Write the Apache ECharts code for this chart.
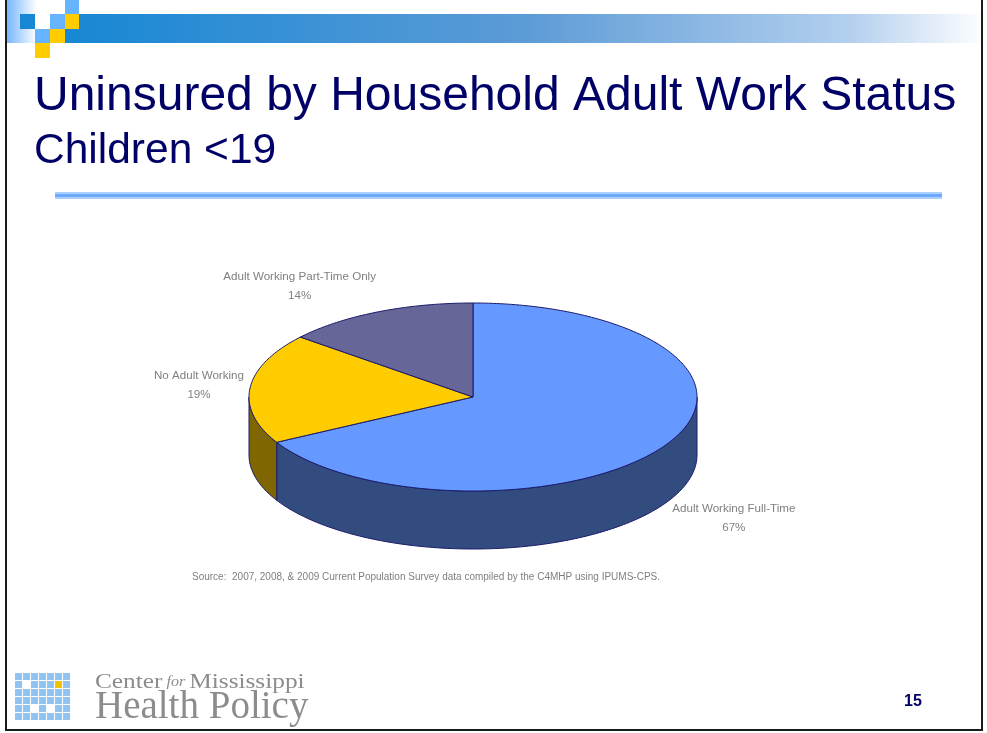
<!DOCTYPE html>
<html>
<head>
<meta charset="utf-8">
<title>Uninsured by Household Adult Work Status</title>
<script src="https://cdn.jsdelivr.net/npm/echarts@6/dist/echarts.min.js"></script>
<style>
  html, body { margin: 0; padding: 0; background: #ffffff; }
  #chart { width: 987px; height: 733px; }
</style>
</head>
<body>
<div id="chart"></div>
<script>
// Share of uninsured children (<19) by household adult work status
const categories = ['Adult Working Full-Time', 'No Adult Working', 'Adult Working Part-Time Only'];
const shares = [67, 19, 14];

// Slice colours: top face and side wall
const topColors = ['#6699FF', '#FFCC00', '#666699'];
const sideColors = ['#334C80', '#7F6600', '#333366'];
// Label offset from the rim point at each slice's mid-angle
const labelOffsets = [[68, 73], [-51, -3], [-78, -26]];

// Tilted pie geometry
const PIE = { cx: 473, cy: 397, rx: 224, ry: 94, depth: 58 };
const OUTLINE = '#1B1B6B';

const total = shares.reduce((a, b) => a + b, 0);
const starts = [];
shares.reduce((acc, v) => { starts.push(acc); return acc + v; }, 0);

// angle in degrees, clockwise from 12 o'clock
function rim(theta, dy) {
  const r = theta * Math.PI / 180;
  return [PIE.cx + PIE.rx * Math.sin(r), PIE.cy - PIE.ry * Math.cos(r) + (dy || 0)];
}
function arc(a0, a1, dy) {
  const pts = [];
  const n = Math.max(2, Math.ceil(Math.abs(a1 - a0)));
  for (let i = 0; i <= n; i++) pts.push(rim(a0 + (a1 - a0) * i / n, dy));
  return pts;
}
function sliceAngles(api) {
  const v = api.value(0), s = api.value(1);
  return [s / total * 360, (s + v) / total * 360];
}

const seriesData = shares.map((v, i) => ({ name: categories[i], value: [v, starts[i]] }));

function renderSide(params, api) {
  const [a0, a1] = sliceAngles(api);
  const s = Math.max(a0, 90), e = Math.min(a1, 270);
  if (s >= e) return null;
  const pts = arc(s, e, 0).concat(arc(e, s, PIE.depth));
  return {
    type: 'polygon',
    shape: { points: pts },
    style: { fill: sideColors[params.dataIndex], stroke: OUTLINE, lineWidth: 1 }
  };
}

function renderTop(params, api) {
  const [a0, a1] = sliceAngles(api);
  const i = params.dataIndex;
  const pts = [[PIE.cx, PIE.cy]].concat(arc(a0, a1, 0));
  const mid = rim((a0 + a1) / 2, 0);
  const off = labelOffsets[i];
  return {
    type: 'group',
    children: [
      {
        type: 'polygon',
        shape: { points: pts },
        style: { fill: topColors[i], stroke: OUTLINE, lineWidth: 1, lineJoin: 'round' }
      },
      {
        type: 'text',
        x: mid[0] + off[0],
        y: mid[1] + off[1],
        style: {
          text: categories[i] + '\n' + api.value(0) + '%',
          align: 'center',
          verticalAlign: 'middle',
          fill: '#7F7F7F',
          fontFamily: '"Liberation Sans", Arial, sans-serif',
          fontSize: 11.6,
          lineHeight: 19
        }
      }
    ]
  };
}

// Logo grid cells (col,row) that are highlighted
const logoWhite = [[1, 1], [2, 4], [4, 4]];
const logoYellow = [[5, 1]];
function logoCells() {
  const cells = [];
  const x0 = 15, y0 = 673, cs = 8;
  for (let r = 0; r < 6; r++) {
    for (let c = 0; c < 7; c++) {
      let fill = '#8EC3F2';
      if (logoWhite.some(p => p[0] === c && p[1] === r)) fill = '#FFFFFF';
      if (logoYellow.some(p => p[0] === c && p[1] === r)) fill = '#F2C200';
      cells.push({
        type: 'rect',
        shape: { x: x0 + c * cs, y: y0 + r * cs, width: cs - 1, height: cs - 1 },
        style: { fill: fill }
      });
    }
  }
  return cells;
}

const SANS = '"Liberation Sans", Arial, sans-serif';
const SERIF = '"Liberation Serif", "DejaVu Serif", serif';

const chart = echarts.init(document.getElementById('chart'), null, { renderer: 'canvas' });
chart.setOption({
  backgroundColor: '#ffffff',
  animation: false,
  series: [
    { type: 'custom', coordinateSystem: 'none', renderItem: renderSide, data: seriesData, z: 2, silent: true },
    { type: 'custom', coordinateSystem: 'none', renderItem: renderTop, data: seriesData, z: 3, silent: true }
  ],
  graphic: [
    // header band
    {
      type: 'rect', shape: { x: 5, y: 0, width: 32, height: 43 }, silent: true,
      style: { fill: new echarts.graphic.LinearGradient(0, 0, 1, 0, [
        { offset: 0, color: '#6FB2FF' }, { offset: 1, color: '#FFFFFF' }]) }
    },
    {
      type: 'rect', shape: { x: 65, y: 14, width: 922, height: 29 }, silent: true,
      style: { fill: new echarts.graphic.LinearGradient(0, 0, 1, 0, [
        { offset: 0, color: '#1787D4' }, { offset: 0.5, color: '#5C9BD6' },
        { offset: 0.85, color: '#B3CFEE' }, { offset: 1, color: '#FFFFFF' }]) }
    },
    { type: 'rect', shape: { x: 65, y: 0, width: 14, height: 14 }, style: { fill: '#66B3FF' }, silent: true },
    { type: 'rect', shape: { x: 20, y: 14, width: 15, height: 15 }, style: { fill: '#1787D4' }, silent: true },
    { type: 'rect', shape: { x: 35, y: 14, width: 15, height: 15 }, style: { fill: '#FFFFFF' }, silent: true },
    { type: 'rect', shape: { x: 50, y: 14, width: 15, height: 15 }, style: { fill: '#66B3FF' }, silent: true },
    { type: 'rect', shape: { x: 65, y: 14, width: 14, height: 15 }, style: { fill: '#FFCC00' }, silent: true },
    { type: 'rect', shape: { x: 35, y: 29, width: 15, height: 14 }, style: { fill: '#66B3FF' }, silent: true },
    { type: 'rect', shape: { x: 50, y: 29, width: 15, height: 14 }, style: { fill: '#FFCC00' }, silent: true },
    { type: 'rect', shape: { x: 35, y: 43, width: 15, height: 15 }, style: { fill: '#FFCC00' }, silent: true },

    // slide frame
    { type: 'line', shape: { x1: 6, y1: 0, x2: 6, y2: 730 }, style: { stroke: '#1A1A1A', lineWidth: 2 }, silent: true },
    { type: 'line', shape: { x1: 982, y1: 0, x2: 982, y2: 730 }, style: { stroke: '#1A1A1A', lineWidth: 2 }, silent: true },
    { type: 'line', shape: { x1: 5, y1: 730, x2: 983, y2: 730 }, style: { stroke: '#1A1A1A', lineWidth: 2 }, silent: true },

    // titles
    {
      type: 'text', x: 34, y: 97, silent: true,
      style: { text: 'Uninsured by Household Adult Work Status', fill: '#000066',
        fontFamily: SANS, fontSize: 48, verticalAlign: 'middle' }
    },
    {
      type: 'text', x: 34, y: 151, silent: true,
      style: { text: 'Children <19', fill: '#000066',
        fontFamily: SANS, fontSize: 42.5, verticalAlign: 'middle' }
    },
    // separator rule
    { type: 'rect', shape: { x: 55, y: 192, width: 887, height: 7 }, style: { fill: '#A9D0FF' }, silent: true },
    { type: 'rect', shape: { x: 55, y: 194, width: 887, height: 3 }, style: { fill: '#6DAAFF' }, silent: true },

    // source note
    {
      type: 'text', x: 426, y: 577, silent: true,
      style: { text: 'Source:  2007, 2008, & 2009 Current Population Survey data compiled by the C4MHP using IPUMS-CPS.',
        fill: '#7F7F7F', fontFamily: SANS, fontSize: 10,
        align: 'center', verticalAlign: 'middle' }
    },

    // footer logo
    { type: 'group', silent: true, children: logoCells() },
    {
      type: 'text', x: 95, y: 682, scaleX: 1.15, silent: true,
      style: { rich: {
          a: { fontFamily: SERIF, fontSize: 22, fill: '#8C8C8C' },
          b: { fontFamily: SERIF, fontSize: 14, fontStyle: 'italic', fill: '#8C8C8C' }
        },
        text: '{a|Center}{b| for }{a|Mississippi}', verticalAlign: 'middle' }
    },
    {
      type: 'text', x: 95, y: 708, silent: true,
      style: { text: 'Health Policy', fill: '#8C8C8C',
        fontFamily: SERIF, fontSize: 39, verticalAlign: 'middle' }
    },
    // page number
    {
      type: 'text', x: 913, y: 702, silent: true,
      style: { text: '15', fill: '#000066', fontFamily: SANS,
        fontSize: 16, fontWeight: 'bold', align: 'center', verticalAlign: 'middle' }
    }
  ]
});
</script>
</body>
</html>
